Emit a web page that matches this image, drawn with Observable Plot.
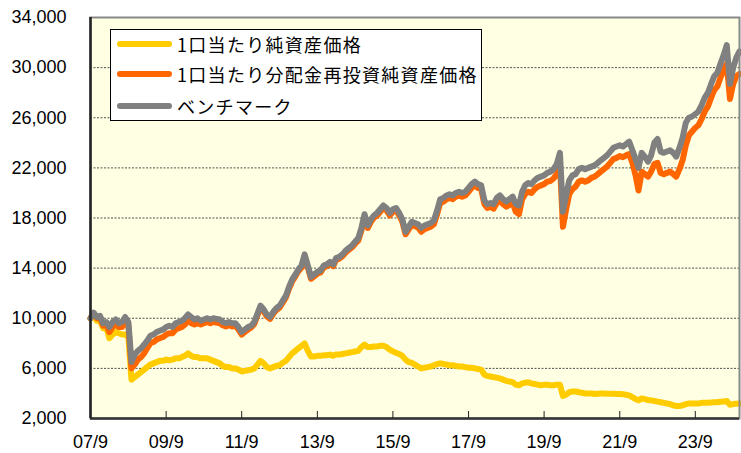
<!DOCTYPE html>
<html><head><meta charset="utf-8">
<script src="https://cdn.jsdelivr.net/npm/d3@7"></script>
<script src="https://cdn.jsdelivr.net/npm/@observablehq/plot@0.6"></script>
<style>
body{margin:0;background:#fff;}
#wrap{position:relative;width:741px;height:453px;}
#legend{position:absolute;left:110px;top:29px;width:370px;height:90px;background:#fff;border:1px solid #000;font-family:"Noto Sans CJK JP",sans-serif;font-size:18px;letter-spacing:1.3px;color:#000;}
.row{position:absolute;left:6px;height:22px;display:flex;align-items:center;white-space:nowrap;}
.sw{display:inline-block;width:55px;height:6px;border-radius:3px;margin-right:5px;}
</style></head><body><div id="wrap"><div id="legend"></div></div>
<script>
const seriesNames = ["1口当たり純資産価格", "1口当たり分配金再投資純資産価格", "ベンチマーク"];
const seriesColors = ["#ffcc00", "#ff6600", "#808080"];
const startMonth = "2007-09";
const endMonth = "2024-11";
const yTicks = [2000, 6000, 10000, 14000, 18000, 22000, 26000, 30000, 34000];
const xTickLabels = ["07/9","09/9","11/9","13/9","15/9","17/9","19/9","21/9","23/9"];

// monthly values, 2007-09 .. 2024-11
const navPerUnit = [
10000,10250,9800,9850,9200,9250,8400,8700,8900,8800,8700,8700,8500,
5100,5300,5500,5700,5900,6100,6300,6400,6500,6600,6600,6700,6650,6700,6800,6800,6900,7000,7200,7000,6900,6900,6800,6800,6800,6700,6600,
6500,6400,6200,6100,6100,6000,6000,5900,5750,5800,5850,5900,
6000,6300,6600,6400,6100,6000,6100,6200,6250,6450,6600,6900,
7200,7400,7600,7800,8000,7400,6950,6950,7000,7000,7050,7050,
7100,7000,7100,7100,7150,7200,7250,7300,7350,7400,7700,7900,
7700,7700,7750,7750,7800,7800,7700,7500,7350,7250,7150,7000,
6700,6500,6450,6300,6150,6000,6050,6100,6150,6250,6350,6400,
6350,6300,6250,6250,6200,6150,6150,6100,6050,6050,6000,5950,
5900,5500,5400,5350,5300,5250,5200,5100,5000,4950,4900,4700,
4650,4800,4850,4900,4800,4750,4700,4650,4700,4700,4650,4650,
4700,4700,3800,3900,4100,4150,4150,4100,4050,4000,4000,4000,
3950,3980,4000,4000,3980,3980,3970,3950,3950,3930,3900,3850,
3700,3550,3450,3600,3550,3450,3450,3400,3350,3300,3250,3200,
3150,3050,3000,3000,3050,3150,3200,3200,3200,3200,3250,3250,
3250,3280,3300,3300,3330,3350,3400,3100,3150,3180,3200];

const navReinvested = [
10000,10400,10000,10050,9400,9500,8900,9300,9500,9300,9300,9700,9400,
6000,6300,6700,6900,7200,7600,8000,8100,8300,8400,8500,8700,8800,8800,9100,9200,9300,9500,9800,9600,9500,9600,9500,9600,9700,9600,9700,
9650,9600,9450,9350,9450,9350,9400,9100,8700,8900,9100,9250,
9550,10250,10850,10550,10150,9950,10350,10650,10850,11250,11650,12350,
12950,13350,13750,14050,14950,14050,13150,13350,13550,13650,14050,14150,
14350,14150,14650,14750,14950,15250,15450,15650,15950,16200,17000,18100,
17200,17700,18000,18200,18500,18800,18600,18200,18500,18600,18200,17700,
16700,17100,17450,17350,17250,16900,17100,17200,17300,17500,18300,19200,
19300,19500,19600,19500,19700,19800,19700,19800,20100,20400,20600,20400,
20300,19100,18800,18900,18750,19200,19400,19100,18900,19050,19250,18500,
18300,19500,19900,20100,20000,20300,20500,20600,20700,20900,20950,21150,
21500,22300,17300,18700,19900,20300,20500,20900,21000,20900,21000,21200,
21300,21500,21700,21900,22100,22400,22700,22800,22950,22850,23000,23100,
22400,21400,20200,21700,21500,21300,21700,22300,22400,21600,21500,21600,
21700,21500,21300,21900,22600,23800,24600,24900,25200,25400,25900,26500,
26900,27600,28200,28500,29200,29800,30300,27500,28700,29300,29500];

const benchmark = [
10000,10450,10100,10200,9600,9700,9300,9700,9900,9600,9700,10100,9700,
6500,7100,7400,7600,7900,8200,8600,8700,8900,9000,9100,9300,9400,9300,9600,9700,9800,10000,10300,10100,9900,10000,9800,9900,10000,9900,10000,
9950,9900,9700,9600,9700,9600,9600,9300,8900,9100,9300,9400,
9700,10400,11000,10700,10300,10100,10500,10800,11000,11400,11800,12500,
13100,13500,13900,14200,15100,14200,13300,13500,13700,13800,14200,14300,
14500,14300,14800,14900,15100,15400,15600,15800,16100,16400,17200,18300,
17400,17900,18200,18400,18700,19000,18800,18400,18700,18800,18400,17900,
16900,17300,17700,17600,17500,17200,17400,17500,17600,17800,18600,19500,
19600,19800,19900,19800,20000,20100,20000,20100,20400,20700,20900,20700,
20600,19400,19100,19200,19100,19600,19800,19500,19300,19500,19700,19100,
19000,20100,20600,20800,20700,21000,21200,21300,21400,21600,21700,21900,
22300,23200,18500,19800,21000,21400,21500,21900,22000,21900,22000,22100,
22200,22400,22600,22800,23000,23300,23600,23700,23800,23700,23900,24100,
23400,22700,22000,23200,22900,22500,23000,24000,24300,23300,23200,23300,
23400,23200,22900,23600,24400,25600,26000,26100,26300,26500,27000,27600,
28000,28700,29300,29600,30300,31000,31800,28700,30000,30800,31300];

const parseM = d3.utcParse("%Y-%m");
const t0 = parseM(startMonth), t1 = parseM(endMonth);
const dates = d3.utcMonth.range(t0, d3.utcMonth.offset(t1, 1));
const allSeries = [navPerUnit, navReinvested, benchmark];
const tables = allSeries.map(vals => vals.map((v, i) => ({date: dates[i], value: v})));
const xTicks = xTickLabels.map(s => parseM("20" + s.split("/")[0] + "-" + s.split("/")[1]));
const fmtX = d => xTickLabels[xTicks.findIndex(t => +t === +d)];

const chart = Plot.plot({
  width: 741, height: 453,
  marginLeft: 90, marginRight: 2, marginTop: 17, marginBottom: 35,
  style: {fontFamily: "'Liberation Sans', Arial, sans-serif", fontSize: "18px", background: "#fff", color: "#000", overflow: "visible"},
  x: {type: "utc", domain: [t0, t1], label: null},
  y: {domain: [yTicks[0], yTicks[yTicks.length - 1]], label: null},
  marks: [
    Plot.frame({fill: "#ffffe4", stroke: null}),
    Plot.gridY(yTicks.slice(1, -1), {stroke: "#333", strokeOpacity: 0.85, strokeDasharray: "2,1.5"}),
    ...tables.map((t, k) => Plot.line(t, {x: "date", y: "value", stroke: seriesColors[k], strokeWidth: 6, strokeLinejoin: "round", strokeLinecap: "round"})),
    Plot.frame({stroke: "#888", strokeWidth: 2}),
    Plot.ruleY([yTicks[0]], {stroke: "#333", strokeWidth: 2.5}),
    Plot.ruleX([t0], {stroke: "#222", strokeWidth: 2.5}),
    Plot.axisY(yTicks, {tickSize: 0, tickPadding: 24, tickFormat: d3.format(","), fontSize: 18, label: null}),
    Plot.axisX(xTicks.slice(1), {tickSize: -7, tickPadding: 24, tickFormat: () => "", stroke: "#222", label: null}),
    Plot.axisX(xTicks, {tickSize: 0, tickPadding: 17, tickFormat: fmtX, fontSize: 18, label: null, style: {letterSpacing: "1.5px"}})
  ]
});
document.getElementById("wrap").prepend(chart);

const legend = document.getElementById("legend");
const rowTops = [3, 33, 65];
seriesNames.forEach((name, k) => {
  const row = document.createElement("div");
  row.className = "row";
  row.style.top = rowTops[k] + "px";
  const sw = document.createElement("span");
  sw.className = "sw";
  sw.style.background = seriesColors[k];
  const tx = document.createElement("span");
  tx.textContent = name;
  row.appendChild(sw); row.appendChild(tx);
  legend.appendChild(row);
});
</script>
</body></html>
